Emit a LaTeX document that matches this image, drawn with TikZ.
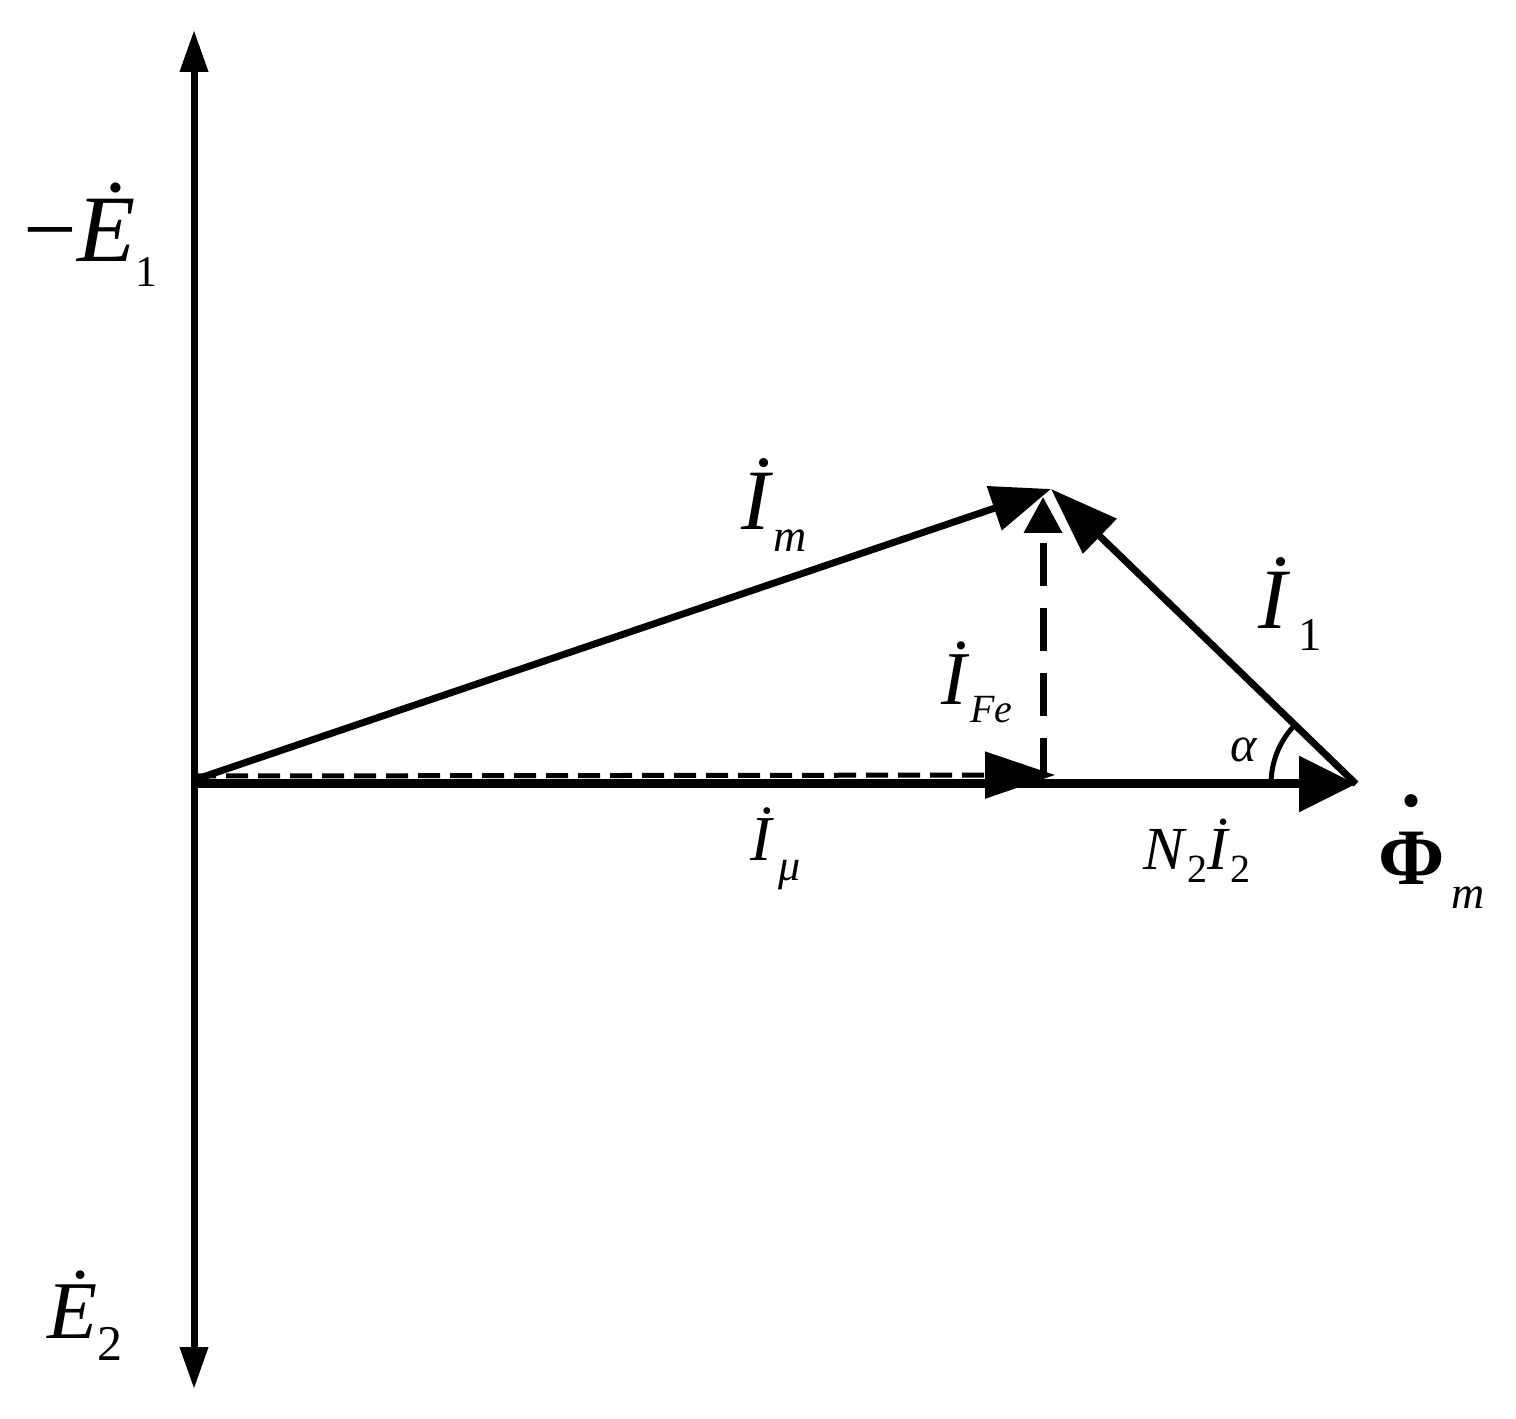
\documentclass[tikz,border=0pt]{standalone}
\usepackage{fontspec}
\setmainfont{Liberation Serif}
\usetikzlibrary{arrows.meta}
\newcommand\fs[1]{\fontsize{#1}{#1}\selectfont}
\newcommand\dotabove[2]{\ooalign{#2\cr\hidewidth\raisebox{#1}{\bfseries .}\hidewidth\cr}}
\begin{document}
\begin{tikzpicture}[x=0.25pt,y=0.25pt,
  axis/.style={line width=1.75pt},
  lbl/.style={inner sep=0pt, anchor=base west}]
\useasboundingbox (0,0) rectangle (1516,-1419);
% points
\coordinate (Top) at (194,-30);
\coordinate (Btm) at (194,-1389);
\coordinate (O) at (194,-784);
\coordinate (Om) at (194,-780);
\coordinate (O2) at (194,-776);
\coordinate (P) at (1051,-489);
\coordinate (Q) at (1356,-784);
\coordinate (F) at (1043,-778);
\coordinate (Ftop) at (1043,-497);
\coordinate (D) at (1055,-775);
% vertical axis
\draw[axis, {Triangle[length=10.5pt,width=6.75pt]}-{Triangle[length=10.5pt,width=6.75pt]}] (Btm) -- (Top);
% dashed I_mu
\draw[line width=1.25pt, dash pattern=on 5.5pt off 2.5pt, -{Triangle[length=17.5pt,width=11.5pt]}] (O2) -- (D);
% N2 I2 / Phi direction
\draw[line width=2.25pt, -{Triangle[length=14.25pt,width=13.5pt]}] (O) -- (Q);
% I_m
\draw[axis, -{Triangle[length=15pt,width=11.25pt]}] (Om) -- (P);
% I_1
\draw[axis, -{Triangle[length=17pt,width=11.75pt]}] (Q) -- (P);
% I_Fe dashed
\draw[axis, dash pattern=on 10.75pt off 5.5pt, dash phase=0.75pt, -{Triangle[length=9pt,width=9.25pt]}] (F) -- (Ftop);
% angle alpha
\draw[line width=1.25pt] (Q) ++(180:85) arc[start angle=180,end angle=136,radius=85];
% labels
\node[lbl] (lE1) at (23,-262) {\fs{23.8}−\textit{Ė}\raisebox{-6.25pt}{\fs{11}1}};
\node[lbl] (lIm) at (741,-530) {\fs{21.5}\textit{İ}\raisebox{-5.5pt}{\fs{11.5}\textit{m}}};
\node[lbl] (lI1) at (1258,-629) {\fs{21.5}\textit{İ}\hspace{2pt}\raisebox{-5.5pt}{\fs{11.7}1}};
\node[lbl] (lIFe) at (941,-705) {\fs{19}\textit{İ}\raisebox{-4.5pt}{\fs{10}\textit{Fe}}};
\node[lbl] (lImu) at (750,-860) {\fs{16}\textit{İ}\hspace{1pt}\raisebox{-5pt}{\fs{11}\textit{μ}}};
\node[lbl] (lN2I2) at (1143,-870) {\fs{15.3}\textit{N}\raisebox{-3pt}{\fs{10}2}\textit{İ}\raisebox{-3pt}{\fs{10}2}};
\node[lbl] (la) at (1230,-762) {\fs{12.5}\textit{α}};
\node[lbl] (lPhi) at (1378,-885) {\fs{20}\dotabove{19.5pt}{\bfseries Φ}\hspace{1.5pt}\raisebox{-5.75pt}{\fs{11.5}\textit{m}}};
\node[lbl] (lE2) at (47,-1338) {\fs{20.5}\textit{Ė}\raisebox{-5.5pt}{\fs{12.5}2}};
\end{tikzpicture}
\end{document}
